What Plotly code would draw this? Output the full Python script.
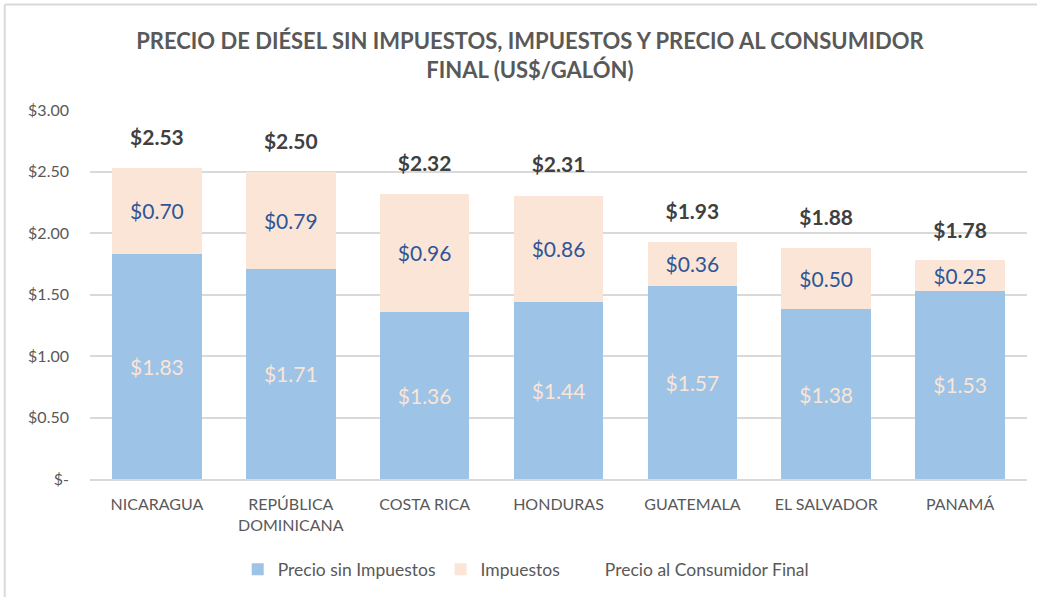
import plotly.graph_objects as go

categories = ["NICARAGUA", "REPÚBLICA<br>DOMINICANA", "COSTA RICA", "HONDURAS",
              "GUATEMALA", "EL SALVADOR", "PANAMÁ"]
precio_sin_impuestos = [1.83, 1.71, 1.36, 1.44, 1.57, 1.38, 1.53]
impuestos = [0.70, 0.79, 0.96, 0.86, 0.36, 0.50, 0.25]
precio_consumidor = [2.53, 2.50, 2.32, 2.31, 1.93, 1.88, 1.78]
y_tickvals = [0, 0.5, 1.0, 1.5, 2.0, 2.5, 3.0]
y_ticktext = ["$-", "$0.50", "$1.00", "$1.50", "$2.00", "$2.50", "$3.00"]

FONT = "Lato, Carlito, Calibri, sans-serif"
fmt = lambda v: f"${v:.2f}"

fig = go.Figure()
fig.add_trace(go.Bar(
    x=categories, y=precio_sin_impuestos, name="Precio sin Impuestos",
    marker=dict(color="#9DC3E6", line=dict(width=0)),
    text=[fmt(v) for v in precio_sin_impuestos], textposition="inside",
    insidetextanchor="middle", textangle=0,
    textfont=dict(color="#FBE5D6", size=21, family=FONT),
))
fig.add_trace(go.Bar(
    x=categories, y=impuestos, name="Impuestos",
    marker=dict(color="#FBE5D6", line=dict(width=0)),
    text=[fmt(v) for v in impuestos], textposition="inside",
    insidetextanchor="middle", textangle=0,
    textfont=dict(color="#2F5597", size=21, family=FONT),
))
fig.add_trace(go.Scatter(
    x=categories, y=precio_consumidor, name="Precio al Consumidor Final",
    mode="markers+text",
    marker=dict(size=26, color="rgba(0,0,0,0)"),
    text=[f"<b>{fmt(v)}</b>" for v in precio_consumidor],
    textposition="top center",
    textfont=dict(color="#404040", size=21, family=FONT),
    cliponaxis=False,
))

fig.update_layout(
    width=1037, height=598,
    barmode="stack", bargap=0.33,
    paper_bgcolor="white", plot_bgcolor="white",
    margin=dict(l=90, r=10, t=110, b=117),
    font=dict(family=FONT, color="#595959", size=16),
    title=dict(
        text="<b>PRECIO DE DIÉSEL SIN IMPUESTOS, IMPUESTOS Y PRECIO AL CONSUMIDOR<br>FINAL (US$/GALÓN)</b>",
        x=0.511, xanchor="center", y=0.918, yanchor="top",
        font=dict(size=22, color="#595959", family=FONT),
    ),
    xaxis=dict(
        showgrid=False, showline=True, linecolor="#D9D9D9", linewidth=2,
        ticks="", ticklabelstandoff=10, tickfont=dict(size=16, color="#595959"),
    ),
    yaxis=dict(
        range=[0, 3.0], tickvals=y_tickvals, ticktext=y_ticktext,
        showgrid=True, gridcolor="#D9D9D9", gridwidth=2,
        zeroline=False, showline=False, ticks="", ticklabelstandoff=20,
        tickfont=dict(size=16, color="#595959"),
    ),
    legend=dict(
        orientation="h", x=0.465, xanchor="center", y=-0.245, yanchor="middle",
        font=dict(size=17.5, color="#595959"), itemclick=False,
        traceorder="normal",
    ),
)

# chart border lines (top and left)
fig.add_shape(type="line", xref="paper", yref="paper",
              x0=-0.091, x1=1.02, y0=1.286, y1=1.286,
              line=dict(color="#D9D9D9", width=2))
fig.add_shape(type="line", xref="paper", yref="paper",
              x0=-0.091, x1=-0.091, y0=1.286, y1=-0.32,
              line=dict(color="#D9D9D9", width=2))

fig.write_html("out.html")
